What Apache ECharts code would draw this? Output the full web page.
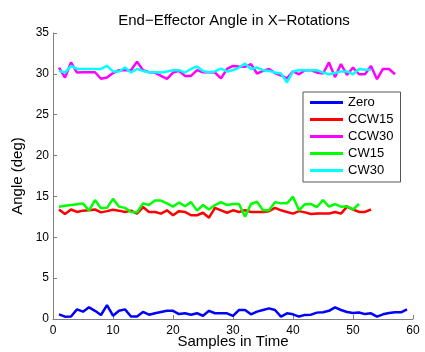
<!DOCTYPE html>
<html>
<head>
<meta charset="utf-8">
<script src="https://cdn.jsdelivr.net/npm/echarts@6/dist/echarts.min.js"></script>
<style>
  html, body { margin: 0; padding: 0; background: #fff; }
  #chart { width: 425px; height: 352px; }
</style>
</head>
<body>
<div id="chart"></div>
<script>
// values, sample index starts at 1
const zero = [0.57, 0.28, 0.3, 1.18, 0.9, 1.43, 1.0, 0.49, 1.71, 0.4, 1.0, 1.18, 0.3, 0.3, 0.86, 0.53, 0.7, 0.86, 1.0, 1.0,
  0.6, 0.7, 0.53, 0.7, 0.4, 1.0, 0.7, 0.7, 0.7, 0.37, 1.1, 1.1, 0.57, 0.9, 1.1, 1.3, 1.1, 0.3, 0.7, 0.57,
  0.3, 0.5, 0.53, 0.78, 0.82, 1.0, 1.43, 1.1, 0.86, 0.73, 0.8, 0.6, 0.7, 0.3, 0.57, 0.73, 0.82, 0.82, 1.18];
const ccw15 = [13.4, 12.85, 13.4, 13.1, 13.26, 13.3, 13.4, 13.05, 13.2, 13.38, 13.26, 13.1, 13.26, 12.9, 13.7, 13.1, 13.1, 12.9, 13.3, 12.7,
  13.2, 13.1, 12.7, 12.7, 13.0, 12.4, 13.6, 13.3, 13.0, 13.3, 13.1, 13.3, 13.1, 13.1, 13.1, 13.2, 13.6, 13.3, 13.1, 12.9,
  13.2, 13.05, 12.85, 12.9, 12.9, 12.9, 13.1, 12.9, 13.75, 13.4, 13.1, 13.1, 13.4];
const ccw30 = [30.77, 29.55, 31.4, 30.16, 30.2, 30.2, 30.2, 29.4, 29.55, 30.1, 30.45, 30.45, 30.45, 31.5, 30.45, 30.2, 30.16, 29.75, 29.4, 30.16,
  30.36, 29.75, 29.75, 30.45, 30.2, 30.2, 30.16, 29.45, 30.6, 30.97, 30.9, 30.86, 31.2, 30.04, 30.36, 30.6, 30.1, 29.8, 29.45, 30.3,
  29.95, 30.45, 30.45, 30.16, 30.04, 31.4, 29.6, 31.2, 29.86, 30.77, 29.95, 29.95, 30.97, 29.35, 30.6, 30.6, 29.95];
const cw15 = [13.75, 13.85, 13.95, 14.05, 14.15, 13.26, 14.56, 13.55, 13.6, 14.7, 13.75, 13.6, 13.1, 13.05, 14.15, 13.95, 14.5, 14.5, 14.15, 13.75,
  14.25, 13.8, 14.3, 13.26, 13.95, 13.4, 13.95, 14.3, 13.95, 14.07, 14.07, 12.53, 14.07, 14.35, 13.3, 13.3, 14.3, 14.15, 14.15, 14.97,
  13.3, 14.05, 14.07, 13.7, 14.56, 13.75, 14.07, 13.75, 13.8, 13.4, 14.07];
const cw30 = [30.36, 30.16, 30.97, 30.6, 30.6, 30.6, 30.6, 30.6, 30.97, 30.3, 30.3, 30.77, 30.16, 30.6, 30.36, 30.2, 30.2, 30.16, 30.3, 30.45,
  30.45, 30.16, 30.6, 30.9, 30.36, 30.2, 30.3, 30.65, 30.3, 30.45, 30.77, 31.25, 30.6, 30.77, 30.45, 30.36, 30.16, 30.04, 28.95, 30.3,
  30.45, 30.45, 30.45, 30.45, 30.16, 29.95, 30.1, 30.3, 30.3, 29.95, 30.6, 30.5, 30.5];

const names = ['Zero', 'CCW15', 'CCW30', 'CW15', 'CW30'];
const colors = ['#0000ff', '#ff0000', '#ff00ff', '#00ff00', '#00ffff'];
const allSeries = [zero, ccw15, ccw30, cw15, cw30];

const font = 'Liberation Sans, Arial, Helvetica, sans-serif';
const myChart = echarts.init(document.getElementById('chart'));

const axisCommon = {
  type: 'value',
  axisLine: { show: true, lineStyle: { color: '#7f7f7f', width: 1 } },
  axisTick: { show: true, inside: true, length: 4, lineStyle: { color: '#7f7f7f' } },
  axisLabel: { color: '#000', fontSize: 12, fontFamily: font },
  splitLine: { show: false },
  nameMoveOverlap: false,
  nameTextStyle: { color: '#000', fontSize: 15, fontFamily: font }
};

const option = {
  animation: false,
  backgroundColor: '#fff',
  title: {
    text: 'End\u2212Effector Angle in X\u2212Rotations',
    left: 229,
    textAlign: 'center',
    top: 8,
    textStyle: { fontSize: 15, fontWeight: 'normal', color: '#000', fontFamily: font }
  },
  grid: { left: 53, right: 12, top: 33, bottom: 33, outerBoundsMode: 'none' },
  xAxis: Object.assign({}, axisCommon, {
    min: 0, max: 60, interval: 10,
    name: 'Samples in Time',
    nameLocation: 'middle',
    nameGap: 15,
    axisLabel: Object.assign({}, axisCommon.axisLabel, { margin: 6 })
  }),
  yAxis: Object.assign({}, axisCommon, {
    min: 0, max: 35, interval: 5,
    name: 'Angle (deg)',
    nameLocation: 'middle',
    nameGap: 28,
    axisLabel: Object.assign({}, axisCommon.axisLabel, { margin: 4 })
  }),
  legend: {
    orient: 'vertical',
    left: 303,
    top: 92,
    padding: [4, 7, 5, 7],
    itemGap: 4,
    itemWidth: 33,
    itemHeight: 3,
    icon: 'rect',
    backgroundColor: '#fff',
    borderColor: '#555',
    borderWidth: 1,
    borderRadius: 0,
    textStyle: { fontSize: 13, color: '#000', fontFamily: font },
    data: names
  },
  series: allSeries.map((vals, i) => ({
    name: names[i],
    type: 'line',
    data: vals.map((v, j) => [j + 1, v]),
    showSymbol: false,
    symbol: 'none',
    color: colors[i],
    lineStyle: { width: 2.5, color: colors[i] },
    z: 2 + i
  }))
};

myChart.setOption(option);
</script>
</body>
</html>
